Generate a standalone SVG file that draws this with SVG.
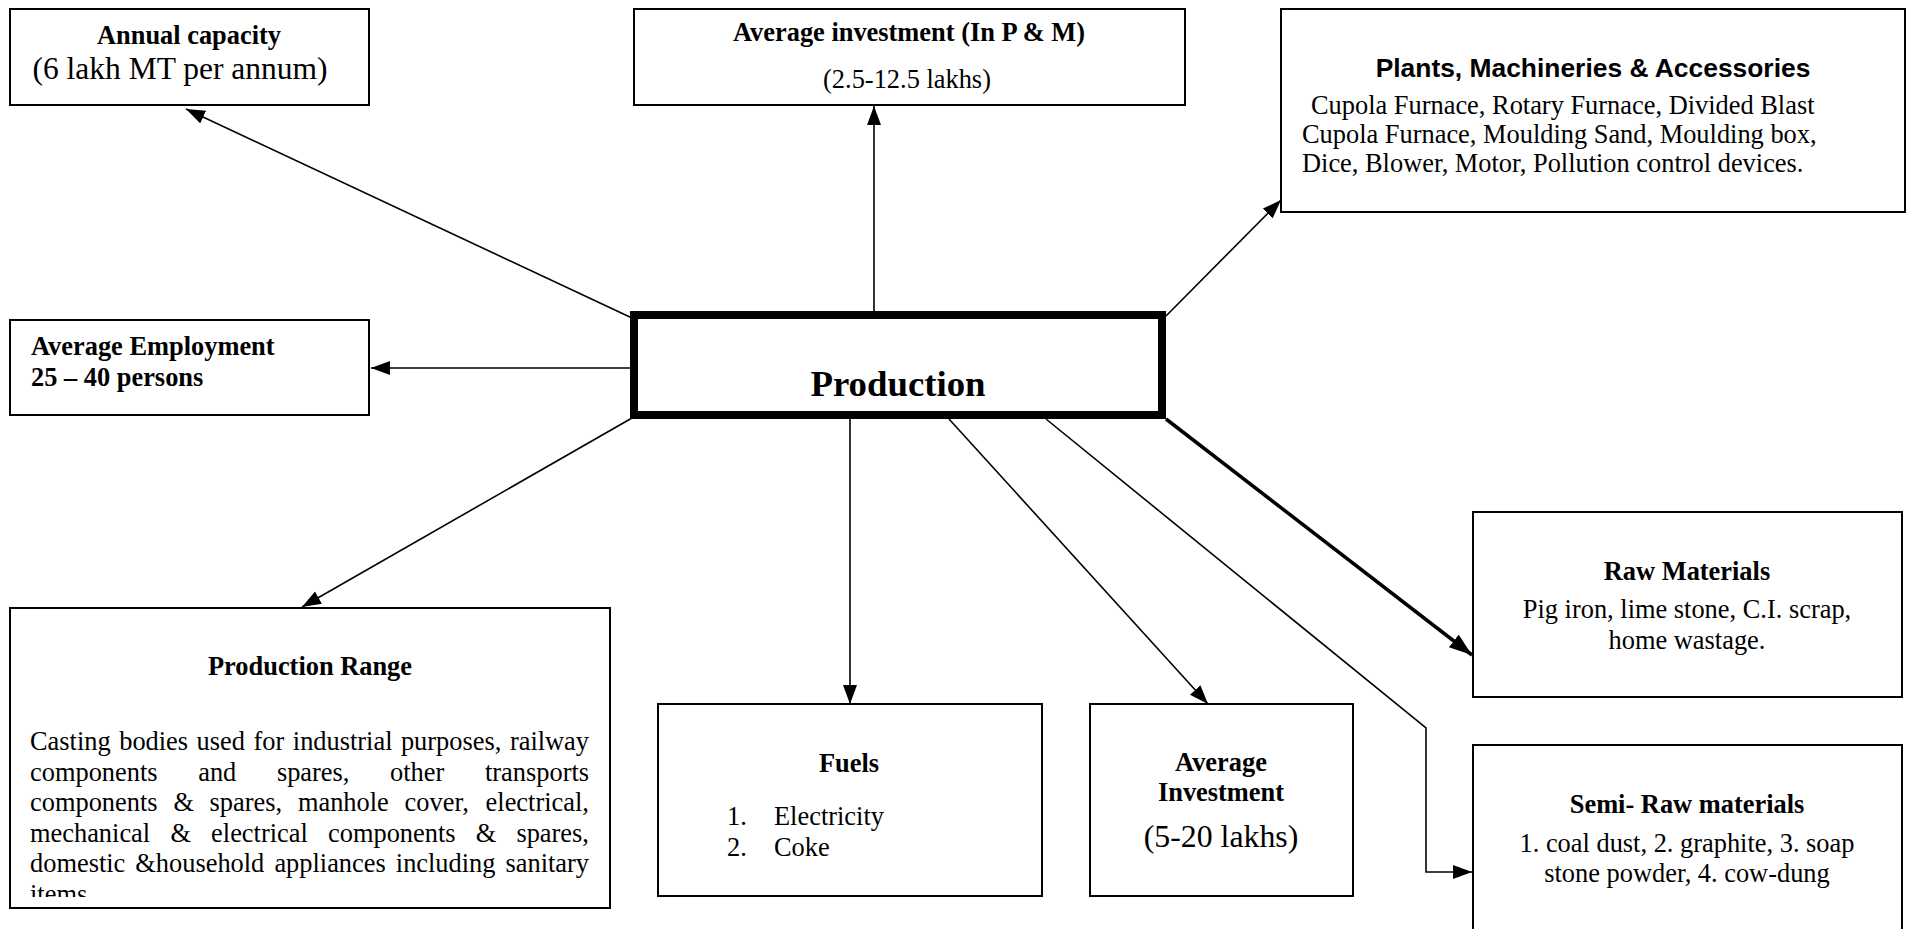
<svg xmlns="http://www.w3.org/2000/svg" width="1916" height="929" viewBox="0 0 1916 929">
<style>
.box{fill:#fff;stroke:#000;stroke-width:2}
.t{font-family:"Liberation Serif","Times New Roman",serif;font-size:26.4px;fill:#000}
.b{font-weight:bold}
.c{text-anchor:middle}
.s{font-family:"Liberation Sans",Arial,sans-serif;font-weight:bold;font-size:26.4px}
.ln{fill:none;stroke:#000;stroke-width:1.6}
</style>
<defs>
<marker id="arr" markerUnits="userSpaceOnUse" markerWidth="20" markerHeight="16" refX="19" refY="7" orient="auto"><path d="M0,0 L19,7 L0,14 z" fill="#000"/></marker>
<marker id="arrT" markerUnits="userSpaceOnUse" markerWidth="24" markerHeight="18" refX="23" refY="8" orient="auto"><path d="M0,0 L23,8 L0,16 z" fill="#000"/></marker>
<clipPath id="prClip"><rect x="12" y="609" width="596" height="288"/></clipPath>
</defs>
<rect width="1916" height="929" fill="#fff"/>
<g id="connectors">
<line class="ln" x1="632" y1="318" x2="186" y2="109" marker-end="url(#arr)"/>
<line class="ln" x1="874" y1="311" x2="874" y2="106" marker-end="url(#arr)"/>
<line class="ln" x1="1166" y1="316" x2="1281" y2="200" marker-end="url(#arr)"/>
<line class="ln" x1="630" y1="368" x2="371" y2="368" marker-end="url(#arr)"/>
<line class="ln" x1="632" y1="418" x2="302" y2="607" marker-end="url(#arr)"/>
<line class="ln" x1="850" y1="419" x2="850" y2="704" marker-end="url(#arr)"/>
<line class="ln" x1="949" y1="419" x2="1208" y2="704" marker-end="url(#arr)"/>
<line x1="1166" y1="419" x2="1472" y2="655" stroke="#000" stroke-width="3.5" marker-end="url(#arrT)"/>
<polyline class="ln" points="1046,419 1426,728 1426,872 1472,872" marker-end="url(#arr)"/>
</g>
<g id="annual-capacity">
<rect class="box" x="10" y="9" width="359" height="96"/>
<text class="t b c" x="189" y="44">Annual capacity</text>
<text class="t c" x="180" y="79" style="font-size:31.5px">(6 lakh MT per annum)</text>
</g>
<g id="avg-investment-pm">
<rect class="box" x="634" y="9" width="551" height="96"/>
<text class="t b c" x="909" y="41">Average investment (In P &amp; M)</text>
<text class="t c" x="907" y="88">(2.5-12.5 lakhs)</text>
</g>
<g id="plants">
<rect class="box" x="1281" y="9" width="624" height="203"/>
<text class="s c" x="1593" y="77">Plants, Machineries &amp; Accessories</text>
<text class="t" x="1311" y="114">Cupola Furnace, Rotary Furnace, Divided Blast</text>
<text class="t" x="1302" y="143">Cupola Furnace, Moulding Sand, Moulding box,</text>
<text class="t" x="1302" y="172">Dice, Blower, Motor, Pollution control devices.</text>
</g>
<g id="employment">
<rect class="box" x="10" y="320" width="359" height="95"/>
<text class="t b" x="31" y="355">Average Employment</text>
<text class="t b" x="31" y="386">25 – 40 persons</text>
</g>
<g id="production">
<rect x="634" y="315" width="528" height="100" fill="#fff" stroke="#000" stroke-width="8"/>
<text class="t b c" x="898" y="396" style="font-size:36.8px">Production</text>
</g>
<g id="production-range">
<rect class="box" x="10" y="608" width="600" height="300"/>
<text class="t b c" x="310" y="675">Production Range</text>
<g clip-path="url(#prClip)">
<text class="t" y="750"><tspan x="30">Casting</tspan><tspan x="119.2">bodies</tspan><tspan x="196.6">used</tspan><tspan x="253.5">for</tspan><tspan x="292.8">industrial</tspan><tspan x="400.9">purposes,</tspan><tspan x="509.9">railway</tspan></text>
<text class="t" y="780.5"><tspan x="30">components</tspan><tspan x="198.2">and</tspan><tspan x="276.9">spares,</tspan><tspan x="390.1">other</tspan><tspan x="485">transports</tspan></text>
<text class="t" y="811"><tspan x="30">components</tspan><tspan x="173.4">&amp;</tspan><tspan x="209.6">spares,</tspan><tspan x="297.9">manhole</tspan><tspan x="404.6">cover,</tspan><tspan x="485.6">electrical,</tspan></text>
<text class="t" y="841.5"><tspan x="30">mechanical</tspan><tspan x="170.4">&amp;</tspan><tspan x="211.1">electrical</tspan><tspan x="328">components</tspan><tspan x="475.8">&amp;</tspan><tspan x="516.4">spares,</tspan></text>
<text class="t" y="872"><tspan x="30">domestic</tspan><tspan x="135.3">&amp;household</tspan><tspan x="274.4">appliances</tspan><tspan x="395.8">including</tspan><tspan x="505.5">sanitary</tspan></text>
<text class="t" x="30" y="902.5">items</text>
</g>
</g>
<g id="fuels">
<rect class="box" x="658" y="704" width="384" height="192"/>
<text class="t b c" x="849" y="772">Fuels</text>
<text class="t" y="825"><tspan x="727">1.</tspan><tspan x="774">Electricity</tspan></text>
<text class="t" y="856"><tspan x="727">2.</tspan><tspan x="774">Coke</tspan></text>
</g>
<g id="avg-investment">
<rect class="box" x="1090" y="704" width="263" height="192"/>
<text class="t b c" x="1221" y="771">Average</text>
<text class="t b c" x="1221" y="801">Investment</text>
<text class="t c" x="1221" y="847" style="font-size:31.8px">(5-20 lakhs)</text>
</g>
<g id="raw-materials">
<rect class="box" x="1473" y="512" width="429" height="185"/>
<text class="t b c" x="1687" y="580">Raw Materials</text>
<text class="t c" x="1687" y="618">Pig iron, lime stone, C.I. scrap,</text>
<text class="t c" x="1687" y="649">home wastage.</text>
</g>
<g id="semi-raw-materials">
<rect class="box" x="1473" y="745" width="429" height="200"/>
<text class="t b c" x="1687" y="813">Semi- Raw materials</text>
<text class="t c" x="1687" y="852">1. coal dust, 2. graphite, 3. soap</text>
<text class="t c" x="1687" y="882">stone powder, 4. cow-dung</text>
</g>
</svg>
